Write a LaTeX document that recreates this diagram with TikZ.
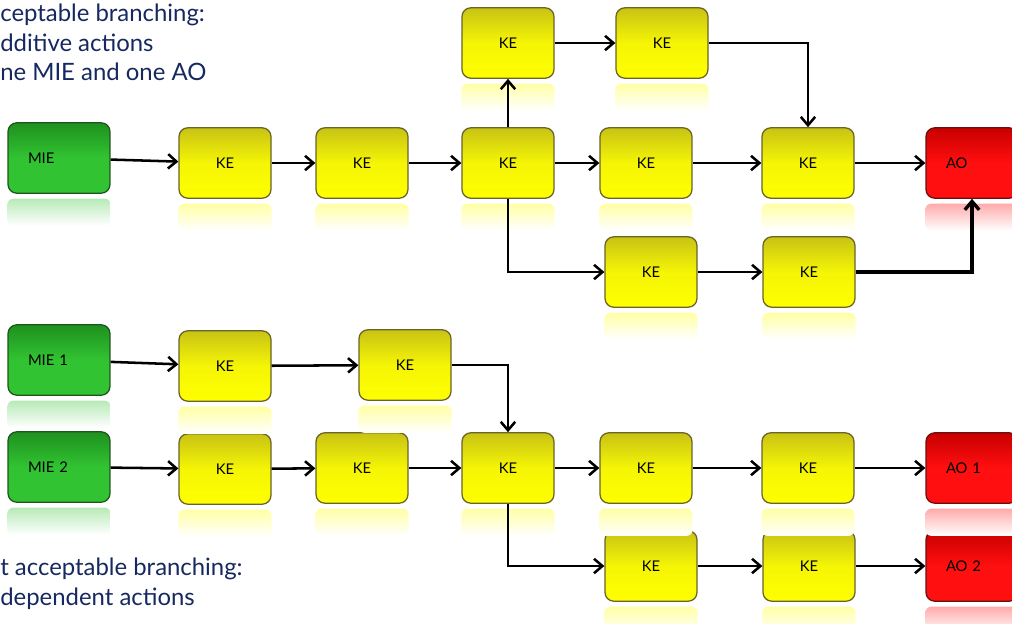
\documentclass[tikz,border=0pt]{standalone}
\usepackage{fontspec}
\setmainfont{Lato}
\usepackage{xcolor}
\usetikzlibrary{arrows.meta}

\definecolor{navy}{RGB}{22,40,96}
\definecolor{ketop}{RGB}{200,195,20}
\definecolor{kemid}{RGB}{245,245,5}
\definecolor{kebot}{RGB}{255,255,0}
\definecolor{keline}{RGB}{105,100,40}
\definecolor{mietop}{RGB}{30,145,30}
\definecolor{miebot}{RGB}{50,195,50}
\definecolor{mieline}{RGB}{30,85,30}
\definecolor{aotop}{RGB}{200,0,0}
\definecolor{aobot}{RGB}{255,15,15}
\definecolor{aoline}{RGB}{105,15,15}

\begin{document}
\begin{tikzpicture}[
  blk/.style={rectangle,rounded corners=2.2mm,line width=0.9pt,minimum height=1.76cm,
    inner ysep=0pt,font=\fontsize{10.5}{12}\selectfont},
  ke/.style={blk,draw=keline,top color=ketop,bottom color=kebot,middle color=kemid,
    minimum width=2.3cm,inner xsep=0pt},
  mie/.style={blk,draw=mieline,top color=mietop,bottom color=miebot,middle color=miebot,
    inner xsep=0.5cm,text width=1.55cm,align=left},
  ao/.style={blk,draw=aoline,top color=aotop,bottom color=aobot,middle color=aobot,
    inner xsep=0.5cm,text width=1.3cm,align=left},
  note/.style={anchor=north west,inner sep=0pt,align=left,text=navy,
    font=\fontsize{17}{21.3}\selectfont},
  ar/.style={-{Straight Barb[length=2.1mm,width=3.6mm]},line width=1.8pt}]
 \useasboundingbox (0,0) rectangle (25.3,-15.575);

 % additive branch
 \node[note] (top) at (0,-0.08) {ceptable branching:\\dditive actions\\ne MIE and one AO};
 \node[mie] (mie) at (1.475,-3.95) {MIE};
 \node[ke] (ka) at (5.625,-4.075) {KE};
 \node[ke] (kb) at (9.05,-4.075) {KE};
 \node[ke] (kc) at (12.7,-4.075) {KE};
 \node[ke] (kd) at (16.15,-4.075) {KE};
 \node[ke] (ke) at (20.2,-4.075) {KE};
 \node[ao] (ao) at (24.3,-4.075) {AO};
 \node[ke] (ta) at (12.7,-1.075) {KE};
 \node[ke] (tb) at (16.55,-1.075) {KE};
 \node[ke] (ba) at (16.275,-6.8) {KE};
 \node[ke] (bb) at (20.225,-6.8) {KE};

 % independent branch
 \node[note] (bot) at (0,-13.93) {t acceptable branching:\\dependent actions};
 \node[mie] (mia) at (1.475,-9.0) {MIE 1};
 \node[ke] (pa) at (5.625,-9.15) {KE};
 \node[ke] (pb) at (10.125,-9.125) {KE};
 \node[mie] (mib) at (1.475,-11.675) {MIE 2};
 \node[ke] (qa) at (5.625,-11.725) {KE};
 \node[ke] (qb) at (9.05,-11.7) {KE};
 \node[ke] (qc) at (12.7,-11.7) {KE};
 \node[ke] (qd) at (16.15,-11.7) {KE};
 \node[ke] (qe) at (20.2,-11.7) {KE};
 \node[ao] (aoa) at (24.3,-11.7) {AO 1};
 \node[ke] (ra) at (16.275,-14.15) {KE};
 \node[ke] (rb) at (20.225,-14.15) {KE};
 \node[ao] (aob) at (24.3,-14.15) {AO 2};

 % faded reflections under the boxes
 \foreach \n/\c in {mie/miebot,ka/kebot,kb/kebot,kc/kebot,kd/kebot,ke/kebot,ao/aobot,
   ta/kebot,tb/kebot,ba/kebot,bb/kebot,mia/miebot,pa/kebot,pb/kebot,mib/miebot,
   qa/kebot,qb/kebot,qc/kebot,qd/kebot,qe/kebot,aoa/aobot,ra/kebot,rb/kebot,aob/aobot}
   \shade[rounded corners=1.5mm,top color=\c!35,bottom color=white]
     ([yshift=-0.12cm]\n.south west) rectangle ([yshift=-0.8cm]\n.south east);

 \draw[ar] (mie) -- (ka);
 \draw[ar] (ka) -- (kb);
 \draw[ar] (kb) -- (kc);
 \draw[ar] (kc) -- (kd);
 \draw[ar] (kd) -- (ke);
 \draw[ar] (ke) -- (ao);
 \draw[ar] (kc) -- (ta);
 \draw[ar] (ta) -- (tb);
 \draw[ar] (tb) -| (ke);
 \draw[ar] (kc) |- (ba);
 \draw[ar] (ba) -- (bb);
 \draw[ar,line width=2.4pt] (bb) -| (ao);

 \draw[ar] (mia) -- (pa);
 \draw[ar] (pa) -- (pb);
 \draw[ar] (pb) -| (qc);
 \draw[ar] (mib) -- (qa);
 \draw[ar] (qa) -- (qb);
 \draw[ar] (qb) -- (qc);
 \draw[ar] (qc) -- (qd);
 \draw[ar] (qd) -- (qe);
 \draw[ar] (qe) -- (aoa);
 \draw[ar] (qc) |- (ra);
 \draw[ar] (ra) -- (rb);
 \draw[ar] (rb) -- (aob);
\end{tikzpicture}
\end{document}
